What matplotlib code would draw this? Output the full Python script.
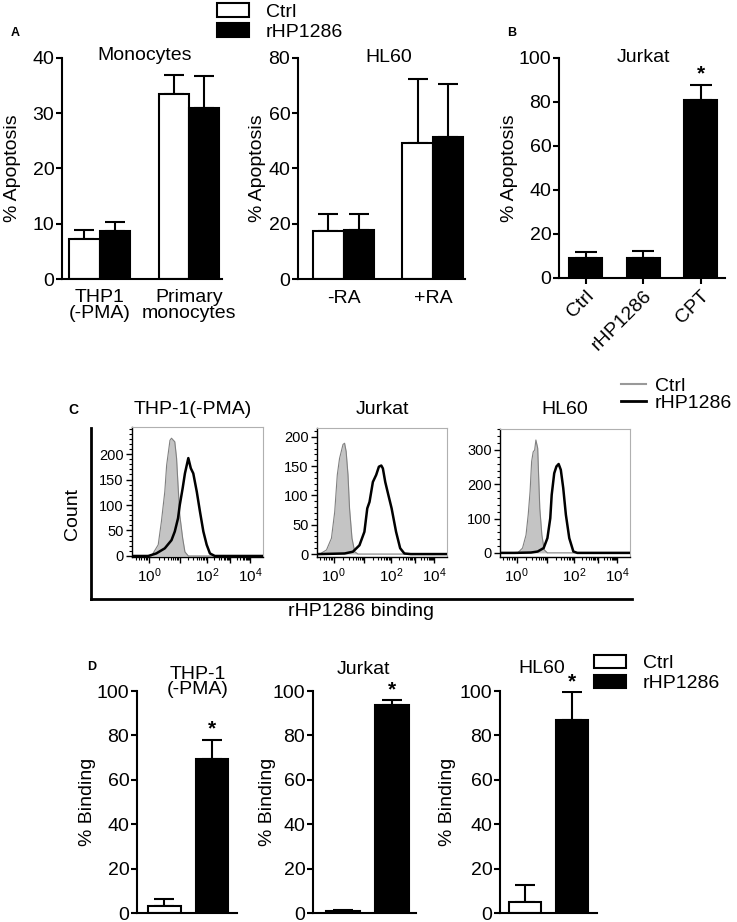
import numpy as np
import matplotlib
matplotlib.use("Agg")
import matplotlib.pyplot as plt
from matplotlib.patches import Patch
from matplotlib.lines import Line2D
from matplotlib.ticker import FixedLocator

plt.rcParams['font.family'] = ['Liberation Sans', 'DejaVu Sans']
plt.rcParams['mathtext.default'] = 'regular'

# ---------------- data ----------------
# Panel A (Monocytes)
mono_groups = ["THP1\n(-PMA)", "Primary\nmonocytes"]
mono_ctrl = [7.3, 33.5]
mono_ctrl_err = [1.5, 3.5]
mono_rhp = [8.6, 31.0]
mono_rhp_err = [1.8, 5.7]
# Panel A (HL60)
hl60_groups = ["-RA", "+RA"]
hl60_ctrl = [17.5, 49.3]
hl60_ctrl_err = [6.2, 23.1]
hl60_rhp = [17.9, 51.3]
hl60_rhp_err = [5.5, 19.2]
# Panel B (Jurkat)
jurkat_groups = ["Ctrl", "rHP1286", "CPT"]
jurkat_apop = [9.1, 9.1, 81.0]
jurkat_apop_err = [2.7, 3.0, 6.8]
jurkat_star = [93.0]

# Panel C histograms (x in log10 fluorescence units, y = count)
thp_ctrl_x = [-0.5, 0.08, 0.29, 0.39, 0.50, 0.56, 0.67, 0.72, 0.83, 0.89, 0.94, 1.00, 1.10, 1.18, 1.30, 4.8]
thp_ctrl_y = [0, 0, 22, 67, 126, 178, 227, 231, 224, 192, 139, 80, 35, 8, 0, 0]
thp_rhp_x = [-0.5, -0.02, 0.23, 0.50, 0.72, 0.83, 0.94, 1.00, 1.10, 1.18, 1.30, 1.39, 1.48, 1.61, 1.73, 1.86, 1.99, 2.12, 2.32, 4.8]
thp_rhp_y = [0, 0, 5, 15, 31, 48, 74, 100, 133, 162, 192, 172, 162, 126, 87, 48, 22, 5, 0, 0]
jur_ctrl_x = [-0.5, -0.42, -0.22, -0.07, 0.03, 0.11, 0.18, 0.29, 0.34, 0.39, 0.45, 0.50, 0.58, 0.67, 0.78, 4.8]
jur_ctrl_y = [0, 0, 7, 27, 72, 135, 163, 187, 189, 175, 135, 78, 27, 4, 0, 0]
jur_rhp_x = [-0.5, -0.42, 0.34, 0.61, 0.83, 1.00, 1.10, 1.18, 1.30, 1.42, 1.52, 1.61, 1.67, 1.76, 1.88, 2.01, 2.19, 2.36, 2.54, 2.82, 4.8]
jur_rhp_y = [0, 0, 1, 4, 15, 38, 78, 89, 123, 135, 149, 151, 146, 123, 101, 78, 38, 10, 1, 0, 0]
hl_ctrl_x = [-0.5, 0.03, 0.18, 0.29, 0.36, 0.42, 0.47, 0.52, 0.57, 0.61, 0.67, 0.70, 0.74, 0.81, 0.89, 1.00, 4.8]
hl_ctrl_y = [0, 0, 14, 52, 111, 179, 266, 294, 300, 329, 305, 227, 130, 52, 9, 0, 0]
hl_rhp_x = [-0.5, -0.07, 0.45, 0.67, 0.87, 1.00, 1.10, 1.15, 1.24, 1.32, 1.40, 1.48, 1.57, 1.67, 1.80, 1.96, 2.12, 4.8]
hl_rhp_y = [0, 0, 1, 4, 14, 43, 101, 169, 232, 252, 259, 242, 189, 111, 43, 4, 0, 0]
hist_titles = ["THP-1(-PMA)", "Jurkat", "HL60"]

# Panel D (% binding)
bind_titles = ["THP-1\n(-PMA)", "Jurkat", "HL60"]
bind_ctrl = [3.1, 0.9, 5.0]
bind_ctrl_err = [3.1, 0.6, 7.8]
bind_rhp = [69.5, 93.5, 86.9]
bind_rhp_err = [8.6, 2.6, 12.8]
bind_star = [83.0, 100.3, 104.2]

# ---------------- layout helpers ----------------
W, H = 737, 922
fig = plt.figure(figsize=(W / 100, H / 100), dpi=100)

def axrect(l, t, r, b):
    return [l / W, 1 - b / H, (r - l) / W, (b - t) / H]

def ftext(px, py, s, **kw):
    kw.setdefault('ha', 'center')
    kw.setdefault('va', 'center')
    fig.text(px / W, 1 - py / H, s, **kw)

FS = 14
LW = 1.5

def style_bar_axis(ax, ymax, ystep):
    for s in ['top', 'right']:
        ax.spines[s].set_visible(False)
    for s in ['left', 'bottom']:
        ax.spines[s].set_linewidth(LW)
    ax.set_ylim(0, ymax)
    ax.set_yticks(np.arange(0, ymax + 0.1, ystep))
    ax.tick_params(axis='y', direction='out', length=4.5, width=LW, labelsize=FS, pad=1)

def grouped(ax, ctrl, ctrl_err, rhp, rhp_err, w, cap):
    x = np.arange(len(ctrl))
    ax.bar(x - w / 2, ctrl, w, facecolor='white', edgecolor='black', linewidth=LW, zorder=2)
    ax.bar(x + w / 2, rhp, w, facecolor='black', edgecolor='black', linewidth=LW, zorder=2)
    ax.errorbar(x - w / 2, ctrl, yerr=[np.zeros(len(ctrl)), ctrl_err], fmt='none',
                ecolor='black', elinewidth=LW, capsize=cap, capthick=LW, zorder=1)
    ax.errorbar(x + w / 2, rhp, yerr=[np.zeros(len(rhp)), rhp_err], fmt='none',
                ecolor='black', elinewidth=LW, capsize=cap, capthick=LW, zorder=1)
    return x

# ---------------- Panel A ----------------
axA1 = fig.add_axes(axrect(62, 58, 222, 279))
x = grouped(axA1, mono_ctrl, mono_ctrl_err, mono_rhp, mono_rhp_err, 0.34, 7)
style_bar_axis(axA1, 40, 10)
axA1.set_xlim(-0.42, 1.37)
axA1.set_xticks(x)
axA1.set_xticklabels(mono_groups, fontsize=FS, linespacing=0.95)
axA1.tick_params(axis='x', length=0, pad=7)

axA2 = fig.add_axes(axrect(298, 58, 465, 279))
x = grouped(axA2, hl60_ctrl, hl60_ctrl_err, hl60_rhp, hl60_rhp_err, 0.34, 7)
style_bar_axis(axA2, 80, 20)
axA2.set_xlim(-0.51, 1.36)
axA2.set_xticks(x)
axA2.set_xticklabels(hl60_groups, fontsize=FS)
axA2.tick_params(axis='x', length=0, pad=8)

ftext(145, 55, "Monocytes", fontsize=FS)
ftext(389, 58, "HL60", fontsize=FS)
ftext(13, 168, "% Apoptosis", fontsize=FS, rotation=90)
ftext(258, 168, "% Apoptosis", fontsize=FS, rotation=90)
ftext(15, 33, "A", fontsize=9, fontweight='bold')

fig.legend(handles=[Patch(facecolor='white', edgecolor='black', linewidth=LW, label='Ctrl'),
                    Patch(facecolor='black', edgecolor='black', linewidth=LW, label='rHP1286')],
           loc='upper left', bbox_to_anchor=(217 / W, 1 - 3 / H), frameon=False,
           fontsize=FS, handlelength=1.65, handleheight=0.7, handletextpad=0.85,
           labelspacing=0.12, borderpad=0, borderaxespad=0)

# ---------------- Panel B ----------------
axB = fig.add_axes(axrect(559, 58, 725, 278))
xb = np.arange(len(jurkat_apop))
axB.bar(xb, jurkat_apop, 0.57, facecolor='black', edgecolor='black', linewidth=LW, zorder=2)
axB.errorbar(xb, jurkat_apop, yerr=[np.zeros(len(xb)), jurkat_apop_err], fmt='none',
             ecolor='black', elinewidth=LW, capsize=8, capthick=LW, zorder=1)
style_bar_axis(axB, 100, 20)
axB.set_xlim(-0.46, 2.42)
axB.set_xticks(xb)
axB.set_xticklabels(jurkat_groups, fontsize=FS, rotation=45, ha='right', rotation_mode='anchor')
axB.tick_params(axis='x', direction='out', length=4.5, width=LW, pad=2)
axB.text(xb[-1], jurkat_star[0], '*', ha='center', va='center', fontsize=15, fontweight='bold')
ftext(643, 58, "Jurkat", fontsize=FS)
ftext(510, 168, "% Apoptosis", fontsize=FS, rotation=90)
ftext(512, 33, "B", fontsize=9, fontweight='bold')

# ---------------- Panel C ----------------
K = 0.05725

def fwd(d):
    d = np.clip(d, -5, 8.7)
    return d - K * d ** 2

def inv(u):
    u = np.asarray(u, dtype=float)
    disc = np.clip(1 - 4 * K * u, 1e-9, None)
    return (1 - np.sqrt(disc)) / (2 * K)

frame = fig.add_axes(axrect(91, 428, 632, 599))
frame.patch.set_alpha(0)
for s in ['top', 'right']:
    frame.spines[s].set_visible(False)
for s in ['left', 'bottom']:
    frame.spines[s].set_linewidth(2)
frame.set_xticks([])
frame.set_yticks([])
frame.set_ylabel("Count", fontsize=14, labelpad=7)
frame.set_xlabel("rHP1286 binding", fontsize=14, labelpad=3)

hist_sets = [
    (axrect(132, 427, 263, 557), thp_ctrl_x, thp_ctrl_y, thp_rhp_x, thp_rhp_y, (-2, 253), 50, 10, 200),
    (axrect(317, 428, 447, 557), jur_ctrl_x, jur_ctrl_y, jur_rhp_x, jur_rhp_y, (-5, 215), 50, 10, 200),
    (axrect(500, 429, 630, 557), hl_ctrl_x, hl_ctrl_y, hl_rhp_x, hl_rhp_y, (-12, 361), 100, 20, 300),
]
minor_x = [np.log10(m) + k for k in range(-1, 4) for m in range(2, 10)]
minor_x = [v for v in minor_x if -0.5 <= v <= 4.8]
for rect, cx, cy, rx, ry, ylim, ymaj, ymin, ytop in hist_sets:
    ax = fig.add_axes(rect)
    ax.set_xscale('function', functions=(fwd, inv))
    ax.fill_between(cx, cy, 0, color='#c4c4c4', linewidth=0, zorder=1)
    ax.plot(cx, cy, color='#808080', linewidth=0.8, zorder=2)
    ax.plot(rx, ry, color='black', linewidth=1.8, zorder=3)
    ax.set_xlim(-0.5, 4.8)
    ax.set_ylim(*ylim)
    ax.xaxis.set_major_locator(FixedLocator([0, 1, 2, 3, 4]))
    ax.set_xticklabels([r'$10^{0}$', '', r'$10^{2}$', '', r'$10^{4}$'])
    ax.xaxis.set_minor_locator(FixedLocator(minor_x))
    ax.set_yticks(np.arange(0, ytop + 1, ymaj))
    ax.yaxis.set_minor_locator(FixedLocator([v for v in np.arange(0, ylim[1], ymin)]))
    for s in ['top', 'right']:
        ax.spines[s].set_color('#b0b0b0')
        ax.spines[s].set_linewidth(0.8)
    for s in ['left', 'bottom']:
        ax.spines[s].set_linewidth(1.0)
    ax.tick_params(which='major', direction='out', length=4, width=1.0, labelsize=10.5, pad=2)
    ax.tick_params(which='minor', direction='out', length=2.2, width=0.8)
    ax.tick_params(axis='x', which='major', labelsize=11, pad=3)

ftext(193, 410, hist_titles[0], fontsize=14)
ftext(382, 410, hist_titles[1], fontsize=14)
ftext(565, 410, hist_titles[2], fontsize=14)
ftext(73, 410, "C", fontsize=10, fontweight='bold')

fig.legend(handles=[Line2D([], [], color='#999999', linewidth=1.5, label='Ctrl'),
                    Line2D([], [], color='black', linewidth=2, label='rHP1286')],
           loc='upper left', bbox_to_anchor=(621 / W, 1 - 377 / H), frameon=False,
           fontsize=14, handlelength=1.3, handletextpad=0.45,
           labelspacing=0.0, borderpad=0, borderaxespad=0)

# ---------------- Panel D ----------------
d_rects = [axrect(137, 691, 237, 913), axrect(313, 691, 416, 913), axrect(500, 691, 597, 913)]
d_xlims = [(-0.57, 1.52), (-0.61, 1.49), (-0.53, 1.52)]
d_ylabel_x = [88, 268, 448]
for i, rect in enumerate(d_rects):
    ax = fig.add_axes(rect)
    xd = np.arange(2)
    vals = [bind_ctrl[i], bind_rhp[i]]
    errs = [bind_ctrl_err[i], bind_rhp_err[i]]
    ax.bar(xd, vals, 0.68, facecolor=['white', 'black'], edgecolor='black', linewidth=LW, zorder=2)
    ax.errorbar(xd, vals, yerr=[np.zeros(2), errs], fmt='none', ecolor='black',
                elinewidth=LW, capsize=7.5, capthick=LW, zorder=1)
    style_bar_axis(ax, 100, 20)
    ax.set_xlim(*d_xlims[i])
    ax.set_xticks([])
    ax.text(1, bind_star[i], '*', ha='center', va='center', fontsize=15, fontweight='bold')
    ftext(d_ylabel_x[i], 802, "% Binding", fontsize=FS, rotation=90)

ftext(198, 682, bind_titles[0], fontsize=FS, linespacing=0.9)
ftext(363, 670, bind_titles[1], fontsize=FS)
ftext(542, 668, bind_titles[2], fontsize=FS)
ftext(92, 667, "D", fontsize=9, fontweight='bold')

fig.legend(handles=[Patch(facecolor='white', edgecolor='black', linewidth=LW, label='Ctrl'),
                    Patch(facecolor='black', edgecolor='black', linewidth=LW, label='rHP1286')],
           loc='upper left', bbox_to_anchor=(594 / W, 1 - 655 / H), frameon=False,
           fontsize=FS, handlelength=1.65, handleheight=0.65, handletextpad=0.85,
           labelspacing=0.12, borderpad=0, borderaxespad=0)

fig.savefig("out.png", dpi=100)
